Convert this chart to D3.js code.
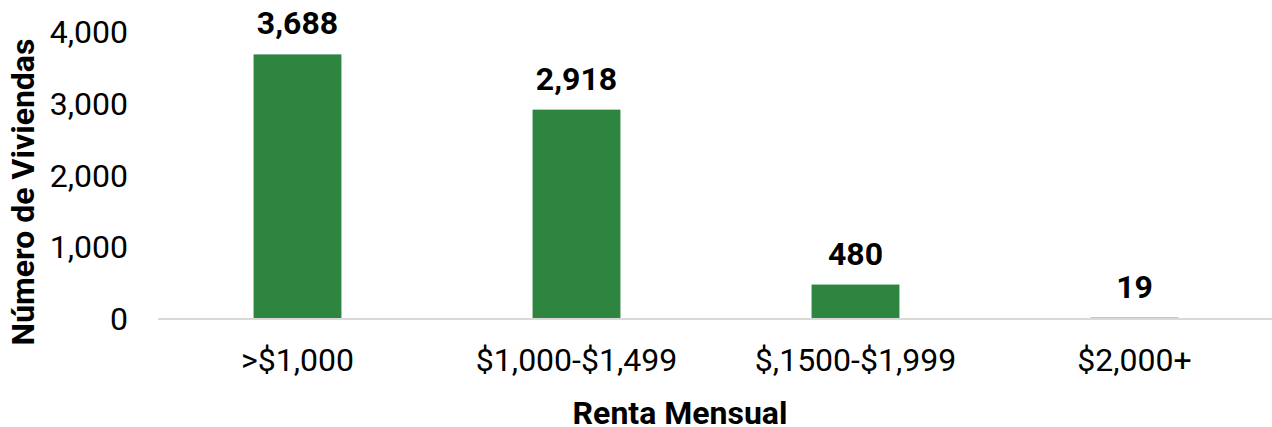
<!DOCTYPE html>
<html>
<head>
<meta charset="utf-8">
<script src="https://cdn.jsdelivr.net/npm/d3@7"></script>
<style>
  body { margin: 0; background: #fff; }
  svg text { font-family: Roboto, "Noto Sans", sans-serif; fill: #000; }
  .tick-label { font-size: 32px; }
  .cat-label { font-size: 32px; }
  .value-label { font-size: 32px; font-weight: bold; }
  .axis-title { font-size: 32px; font-weight: bold; }
</style>
</head>
<body>
<div class="chart"></div>
<script>
// Renta mensual: numero de viviendas
var categories = [">$1,000", "$1,000-$1,499", "$,1500-$1,999", "$2,000+"];
var viviendas = [3688, 2918, 480, 19];
var yTicks = [0, 1000, 2000, 3000, 4000];

var svgWidth = 1272;
var svgHeight = 427;

var svg = d3.select(".chart")
    .append("svg")
    .attr("width", svgWidth)
    .attr("height", svgHeight);

var xScale = d3.scaleBand()
    .domain(categories)
    .range([158, 1274])
    .paddingInner(0.685)
    .paddingOuter(0.3425);

var yScale = d3.scaleLinear()
    .domain([0, 4000])
    .range([319, 32]);

var fmt = d3.format(",");

// y tick labels (no gridlines, no axis line)
svg.selectAll(".tick-label")
    .data(yTicks)
    .enter()
    .append("text")
    .attr("class", "tick-label")
    .attr("x", 128)
    .attr("y", function(d) { return yScale(d); })
    .attr("dy", "0.35em")
    .attr("text-anchor", "end")
    .text(function(d) { return fmt(d); });

// bars
svg.selectAll("rect")
    .data(viviendas)
    .enter()
    .append("rect")
    .attr("x", function(d, i) { return xScale(categories[i]); })
    .attr("y", function(d) { return yScale(d); })
    .attr("width", xScale.bandwidth())
    .attr("height", function(d) { return yScale(0) - yScale(d); })
    .attr("fill", "#2e8540");

// baseline
svg.append("line")
    .attr("x1", 158)
    .attr("x2", svgWidth)
    .attr("y1", yScale(0))
    .attr("y2", yScale(0))
    .attr("stroke", "#d9d9d9")
    .attr("stroke-width", 2);

// value labels
svg.selectAll(".value-label")
    .data(viviendas)
    .enter()
    .append("text")
    .attr("class", "value-label")
    .attr("x", function(d, i) { return xScale(categories[i]) + xScale.bandwidth() / 2; })
    .attr("y", function(d) { return yScale(d) - 20; })
    .attr("text-anchor", "middle")
    .text(function(d) { return fmt(d); });

// category labels
svg.selectAll(".cat-label")
    .data(categories)
    .enter()
    .append("text")
    .attr("class", "cat-label")
    .attr("x", function(d) { return xScale(d) + xScale.bandwidth() / 2; })
    .attr("y", 371)
    .attr("text-anchor", "middle")
    .text(function(d) { return d; });

// axis titles
svg.append("text")
    .attr("class", "axis-title")
    .attr("x", 680)
    .attr("y", 424)
    .attr("text-anchor", "middle")
    .text("Renta Mensual");

svg.append("text")
    .attr("class", "axis-title")
    .attr("transform", "translate(34," + 192 + ") rotate(-90)")
    .attr("text-anchor", "middle")
    .text("Número de Viviendas");
</script>
</body>
</html>
